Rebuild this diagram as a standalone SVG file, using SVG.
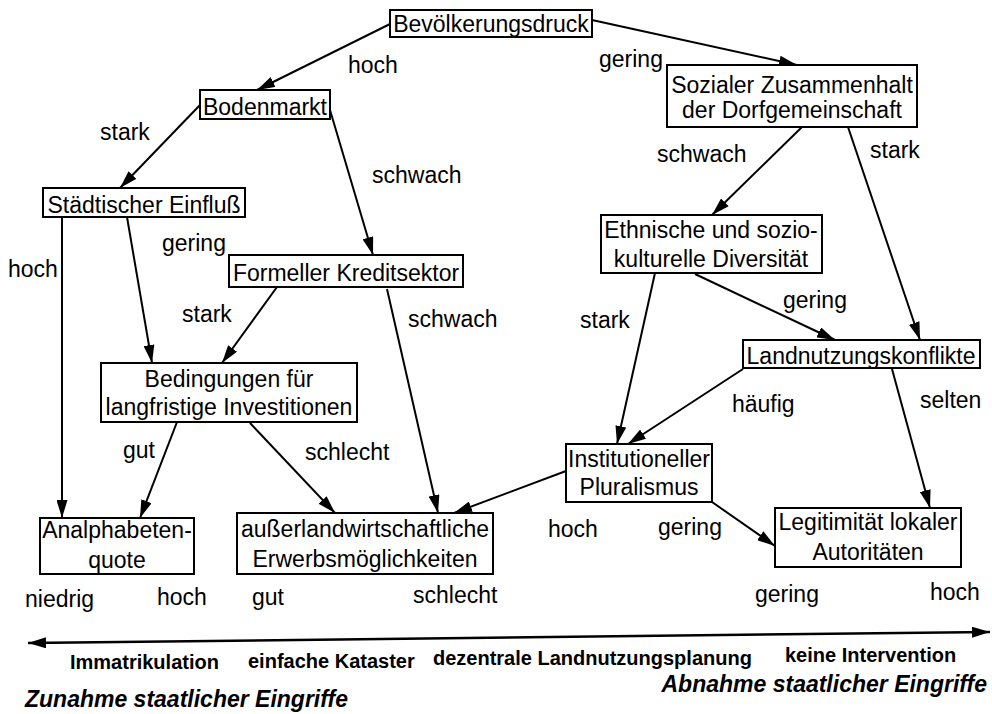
<svg xmlns="http://www.w3.org/2000/svg" width="992" height="714" viewBox="0 0 992 714">
<style>
.box{fill:#fff;stroke:#000;stroke-width:2}
.nt{font-family:"Liberation Sans",Arial,sans-serif;font-size:23px;fill:#000;text-anchor:middle}
.lb{font-family:"Liberation Sans",Arial,sans-serif;font-size:23px;fill:#000}
.bt{font-family:"Liberation Sans",Arial,sans-serif;font-size:20px;font-weight:bold;fill:#000}
.it{font-family:"Liberation Sans",Arial,sans-serif;font-size:23px;font-weight:bold;font-style:italic;fill:#000}
.c{stroke:#000;stroke-width:2;fill:none;marker-end:url(#ah)}
</style>
<defs>
<marker id="ah" viewBox="0 0 18 11" refX="18" refY="5.5" markerWidth="18" markerHeight="11" markerUnits="userSpaceOnUse" orient="auto-start-reverse">
<path d="M0,0 L18,5.5 L0,11 z" fill="#000"/>
</marker>
</defs>
<rect width="992" height="714" fill="#fff"/>
<g id="connectors">
<line class="c" x1="390" y1="24" x2="257" y2="90"/>
<line class="c" x1="592" y1="20" x2="797" y2="65"/>
<line class="c" x1="200" y1="105" x2="120" y2="188"/>
<line class="c" x1="330" y1="110" x2="373" y2="255"/>
<line class="c" x1="62" y1="217" x2="62" y2="518"/>
<line class="c" x1="127" y1="217" x2="152" y2="363"/>
<line class="c" x1="277" y1="287" x2="222" y2="363"/>
<line class="c" x1="387" y1="289" x2="438" y2="513"/>
<line class="c" x1="177" y1="422" x2="140" y2="518"/>
<line class="c" x1="250" y1="423" x2="335" y2="513"/>
<line class="c" x1="802" y1="127" x2="712" y2="215"/>
<line class="c" x1="848" y1="127" x2="920" y2="340"/>
<line class="c" x1="655" y1="273" x2="617" y2="444"/>
<line class="c" x1="695" y1="274" x2="835" y2="340"/>
<line class="c" x1="743" y1="369" x2="628" y2="444"/>
<line class="c" x1="892" y1="369" x2="930" y2="508"/>
<line class="c" x1="566" y1="471" x2="454" y2="513"/>
<line class="c" x1="712" y1="502" x2="775" y2="546"/>
<line class="c" x1="28" y1="643" x2="990" y2="632" style="marker-start:url(#ah);stroke-width:2.5"/>
</g>
<g id="n-bevoelkerungsdruck"><rect class="box" x="390" y="10" width="202" height="27"/><text class="nt" x="491" y="32">Bevölkerungsdruck</text></g>
<g id="n-bodenmarkt"><rect class="box" x="200" y="90" width="130" height="29"/><text class="nt" x="265" y="115">Bodenmarkt</text></g>
<g id="n-staedtisch"><rect class="box" x="43" y="188" width="202" height="29"/><text class="nt" x="144" y="213">Städtischer Einfluß</text></g>
<g id="n-sozial"><rect class="box" x="667" y="65" width="250" height="62"/><text class="nt" x="792" y="93">Sozialer Zusammenhalt</text><text class="nt" x="792" y="118">der Dorfgemeinschaft</text></g>
<g id="n-ethnisch"><rect class="box" x="601" y="215" width="221" height="58"/><text class="nt" x="711" y="238">Ethnische und sozio-</text><text class="nt" x="711" y="267">kulturelle Diversität</text></g>
<g id="n-kredit"><rect class="box" x="229" y="255" width="234" height="32"/><text class="nt" x="346" y="281">Formeller Kreditsektor</text></g>
<g id="n-bedingungen"><rect class="box" x="101" y="363" width="256" height="59"/><text class="nt" x="229" y="387">Bedingungen für</text><text class="nt" x="229" y="415">langfristige Investitionen</text></g>
<g id="n-landnutzung"><rect class="box" x="743" y="340" width="237" height="28"/><text class="nt" x="861" y="364">Landnutzungskonflikte</text></g>
<g id="n-institutionell"><rect class="box" x="566" y="444" width="146" height="58"/><text class="nt" x="639" y="467">Institutioneller</text><text class="nt" x="639" y="495">Pluralismus</text></g>
<g id="n-legitimitaet"><rect class="box" x="775" y="508" width="186" height="59"/><text class="nt" x="868" y="530">Legitimität lokaler</text><text class="nt" x="868" y="560">Autoritäten</text></g>
<g id="n-analphabeten"><rect class="box" x="40" y="518" width="154" height="56"/><text class="nt" x="117" y="538">Analphabeten-</text><text class="nt" x="117" y="568">quote</text></g>
<g id="n-erwerb"><rect class="box" x="237" y="513" width="256" height="61"/><text class="nt" x="365" y="537">außerlandwirtschaftliche</text><text class="nt" x="365" y="567">Erwerbsmöglichkeiten</text></g>
<g id="labels">
<text class="lb" x="348" y="73">hoch</text>
<text class="lb" x="599" y="67">gering</text>
<text class="lb" x="100" y="140">stark</text>
<text class="lb" x="372" y="183">schwach</text>
<text class="lb" x="657" y="162">schwach</text>
<text class="lb" x="870" y="158">stark</text>
<text class="lb" x="8" y="277">hoch</text>
<text class="lb" x="162" y="251">gering</text>
<text class="lb" x="182" y="322">stark</text>
<text class="lb" x="408" y="327">schwach</text>
<text class="lb" x="123" y="458">gut</text>
<text class="lb" x="305" y="460">schlecht</text>
<text class="lb" x="580" y="328">stark</text>
<text class="lb" x="783" y="308">gering</text>
<text class="lb" x="732" y="412">häufig</text>
<text class="lb" x="920" y="408">selten</text>
<text class="lb" x="548" y="537">hoch</text>
<text class="lb" x="658" y="535">gering</text>
<text class="lb" x="25" y="607">niedrig</text>
<text class="lb" x="157" y="605">hoch</text>
<text class="lb" x="252" y="605">gut</text>
<text class="lb" x="413" y="603">schlecht</text>
<text class="lb" x="755" y="602">gering</text>
<text class="lb" x="930" y="600">hoch</text>
</g>
<g id="axis-text">
<text class="bt" x="70" y="669">Immatrikulation</text>
<text class="bt" x="248" y="668">einfache Kataster</text>
<text class="bt" x="433" y="665">dezentrale Landnutzungsplanung</text>
<text class="bt" x="785" y="662">keine Intervention</text>
<text class="it" x="25" y="707">Zunahme staatlicher Eingriffe</text>
<text class="it" x="987" y="692" text-anchor="end">Abnahme staatlicher Eingriffe</text>
</g>
</svg>
